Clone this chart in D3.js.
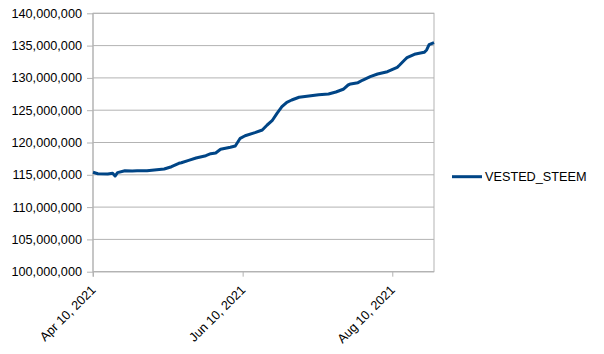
<!DOCTYPE html>
<html>
<head>
<meta charset="utf-8">
<script src="https://cdn.jsdelivr.net/npm/d3@7"></script>
<style>
  body { margin: 0; background: #fff; }
  text { font-family: "Liberation Sans", Arial, sans-serif; fill: #000; }
</style>
</head>
<body>
<div id="chart"></div>
<script>
// data (date, vested steem)
const dates = ["2021-04-10","2021-04-12","2021-04-16","2021-04-18","2021-04-19","2021-04-20",
  "2021-04-23","2021-04-26","2021-04-28","2021-05-02","2021-05-06","2021-05-09","2021-05-12",
  "2021-05-15","2021-05-16","2021-05-19","2021-05-22","2021-05-26","2021-05-28","2021-05-30",
  "2021-06-01","2021-06-05","2021-06-07","2021-06-09","2021-06-11","2021-06-15","2021-06-18",
  "2021-06-20","2021-06-22","2021-06-24","2021-06-26","2021-06-28","2021-06-30","2021-07-03",
  "2021-07-07","2021-07-11","2021-07-15","2021-07-18","2021-07-21","2021-07-23","2021-07-24",
  "2021-07-27","2021-07-29","2021-08-01","2021-08-04","2021-08-08","2021-08-12","2021-08-13",
  "2021-08-15","2021-08-16","2021-08-19","2021-08-23","2021-08-24","2021-08-25","2021-08-27"];
const vestedSteem = [115390000,115170000,115120000,115230000,114810000,115330000,
  115630000,115590000,115630000,115630000,115790000,115900000,116250000,
  116780000,116870000,117240000,117600000,117960000,118270000,118370000,
  118950000,119260000,119460000,120650000,121050000,121520000,121940000,
  122710000,123370000,124520000,125540000,126220000,126580000,127000000,
  127200000,127400000,127510000,127820000,128240000,128900000,129060000,
  129260000,129670000,130190000,130600000,130960000,131640000,132000000,
  132770000,133130000,133650000,133960000,134320000,135140000,135450000];
const yTicks = [100000000,105000000,110000000,115000000,120000000,125000000,130000000,135000000,140000000];
const xTicks = ["2021-04-10","2021-06-10","2021-08-10"];
const seriesName = "VESTED_STEEM";

const W = 604, H = 354;
const margin = {top: 13.3, left: 93, right: 170, bottom: 82.3};
const width = W - margin.left - margin.right,
      height = H - margin.top - margin.bottom;

const parse = d3.timeParse("%Y-%m-%d");
const data = dates.map((d, i) => ({date: parse(d), value: vestedSteem[i]}));

const svg = d3.select("#chart").append("svg")
    .attr("width", W).attr("height", H);
const g = svg.append("g")
    .attr("transform", `translate(${margin.left},${margin.top})`);

const x = d3.scaleTime()
  .domain([parse("2021-04-10"), parse("2021-08-27")])
  .range([0, width]);
const y = d3.scaleLinear()
  .domain([100000000, 140000000])
  .range([height, 0]);

const grey = "#b3b3b3";

// horizontal grid lines
g.selectAll(".grid").data(yTicks).join("line")
  .attr("x1", 0).attr("x2", width)
  .attr("y1", d => y(d)).attr("y2", d => y(d))
  .attr("stroke", grey).attr("stroke-width", 1);

// plot border
g.append("rect")
  .attr("width", width).attr("height", height)
  .attr("fill", "none").attr("stroke", grey).attr("stroke-width", 1);

// Y axis
const fmt = d3.format(",");
const yAxis = g.append("g")
  .call(d3.axisLeft(y).tickValues(yTicks).tickSize(6).tickPadding(5).tickFormat(fmt));
yAxis.select(".domain").remove();
yAxis.selectAll("line").attr("stroke", grey);
yAxis.selectAll("text").style("font-size", "12.7px").style("font-family", "Liberation Sans, Arial, sans-serif");

// X axis
const xAxis = g.append("g")
  .attr("transform", `translate(0,${height})`)
  .call(d3.axisBottom(x).tickValues(xTicks.map(parse)).tickSize(5).tickFormat(d3.timeFormat("%b %-d, %Y")));
xAxis.select(".domain").attr("stroke", grey).attr("d", `M0,0H${width}`);
xAxis.selectAll("line").attr("stroke", grey);
xAxis.selectAll("text")
  .style("font-size", "12.7px").style("font-family", "Liberation Sans, Arial, sans-serif")
  .attr("text-anchor", "end")
  .attr("dy", null).attr("y", 0)
  .attr("transform", "translate(3,19) rotate(-45)");

// left axis line extending below plot
g.append("line")
  .attr("x1", 0).attr("x2", 0).attr("y1", 0).attr("y2", height + 5)
  .attr("stroke", grey);

// the series
const line = d3.line()
  .x(d => x(d.date))
  .y(d => y(d.value));
g.append("path")
  .datum(data)
  .attr("fill", "none")
  .attr("stroke", "#004586")
  .attr("stroke-width", 3)
  .attr("stroke-linejoin", "round")
  .attr("d", line);

// legend
const legend = svg.append("g").attr("transform", "translate(452,176.7)");
legend.append("line")
  .attr("x1", 0).attr("x2", 30)
  .attr("stroke", "#004586").attr("stroke-width", 3);
legend.append("text")
  .attr("x", 33).attr("y", 4.5)
  .style("font-size", "12.7px")
  .text(seriesName);
</script>
</body>
</html>
